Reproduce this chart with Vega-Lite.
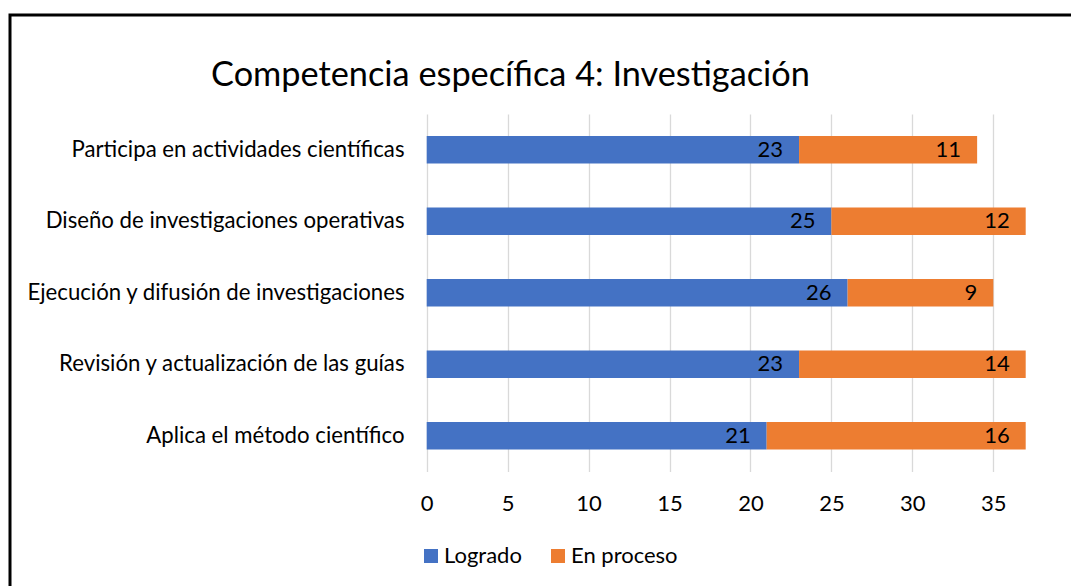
{
  "$schema": "https://vega.github.io/schema/vega-lite/v6.json",
  "width": 1061,
  "height": 571,
  "autosize": {"type": "none"},
  "padding": {"left": 10, "top": 15, "right": 0, "bottom": 0},
  "background": "white",
  "view": {"stroke": "#000000", "strokeWidth": 3, "strokeDash": [1061, 1632, 571], "fill": "white"},
  "config": {"font": "Lato"},
  "title": {
    "text": "Competencia específica 4: Investigación",
    "frame": "group",
    "anchor": "middle",
    "orient": "top",
    "offset": -95,
    "baseline": "middle",
    "dx": -30,
    "fontSize": 34.3,
    "font": "Lato",
    "fontWeight": "normal",
    "color": "#000000"
  },
  "data": {
    "values": [
      {"item": "Participa en actividades científicas", "serie": "Logrado", "value": 23},
      {"item": "Participa en actividades científicas", "serie": "En proceso", "value": 11},
      {"item": "Diseño de investigaciones operativas", "serie": "Logrado", "value": 25},
      {"item": "Diseño de investigaciones operativas", "serie": "En proceso", "value": 12},
      {"item": "Ejecución y difusión de investigaciones", "serie": "Logrado", "value": 26},
      {"item": "Ejecución y difusión de investigaciones", "serie": "En proceso", "value": 9},
      {"item": "Revisión y actualización de las guías ", "serie": "Logrado", "value": 23},
      {"item": "Revisión y actualización de las guías ", "serie": "En proceso", "value": 14},
      {"item": "Aplica el método científico", "serie": "Logrado", "value": 21},
      {"item": "Aplica el método científico", "serie": "En proceso", "value": 16}
    ]
  },
  "encoding": {
    "y": {
      "field": "item",
      "type": "nominal",
      "sort": ["Participa en actividades científicas", "Diseño de investigaciones operativas", "Ejecución y difusión de investigaciones", "Revisión y actualización de las guías ", "Aplica el método científico"],
      "scale": {"range": [98.9, 456.5], "paddingInner": 0.615, "paddingOuter": 0.3077},
      "axis": {
        "title": null,
        "orient": "left",
        "offset": -416.7,
        "domain": false,
        "ticks": false,
        "tickSize": 0,
        "grid": false,
        "labelPadding": 22.7,
        "labelFontSize": 22.2,
        "labelFont": "Lato",
        "labelColor": "#000000",
        "labelLimit": 0
      }
    },
    "x": {
      "field": "value",
      "type": "quantitative",
      "stack": "zero",
      "scale": {"domain": [0, 37], "range": [416.7, 1015.7], "nice": false, "zero": true},
      "axis": {
        "title": null,
        "orient": "top",
        "offset": -456.5,
        "values": [0, 5, 10, 15, 20, 25, 30, 35],
        "domain": false,
        "ticks": false,
        "tickSize": 0,
        "labelPadding": -32,
        "labelBaseline": "middle",
        "labelFontSize": 22,
        "labelFont": "Lato",
        "labelColor": "#000000",
        "labelFlush": false,
        "labelOverlap": false,
        "grid": true,
        "gridColor": "#d9d9d9",
        "gridWidth": 1.3
      }
    },
    "order": {"field": "serie", "sort": "descending"}
  },
  "layer": [
    {
      "mark": {"type": "bar"},
      "encoding": {
        "color": {
          "field": "serie",
          "type": "nominal",
          "scale": {"domain": ["Logrado", "En proceso"], "range": ["#4472C4", "#ED7D31"]},
          "legend": {
            "title": null,
            "orient": "none",
            "legendX": 410,
            "legendY": 530,
            "direction": "horizontal",
            "symbolType": "square",
            "symbolSize": 196,
            "symbolStrokeWidth": 0,
            "labelFontSize": 22,
            "labelFont": "Lato",
            "labelColor": "#000000",
            "labelOffset": 2,
            "columnPadding": 25,
            "padding": 0
          }
        }
      }
    },
    {
      "mark": {"type": "text", "align": "right", "baseline": "middle", "dx": -16, "fontSize": 22, "font": "Lato", "color": "#000000"},
      "encoding": {
        "text": {"field": "value", "type": "quantitative"},
        "detail": {"field": "serie"}
      }
    }
  ]
}
